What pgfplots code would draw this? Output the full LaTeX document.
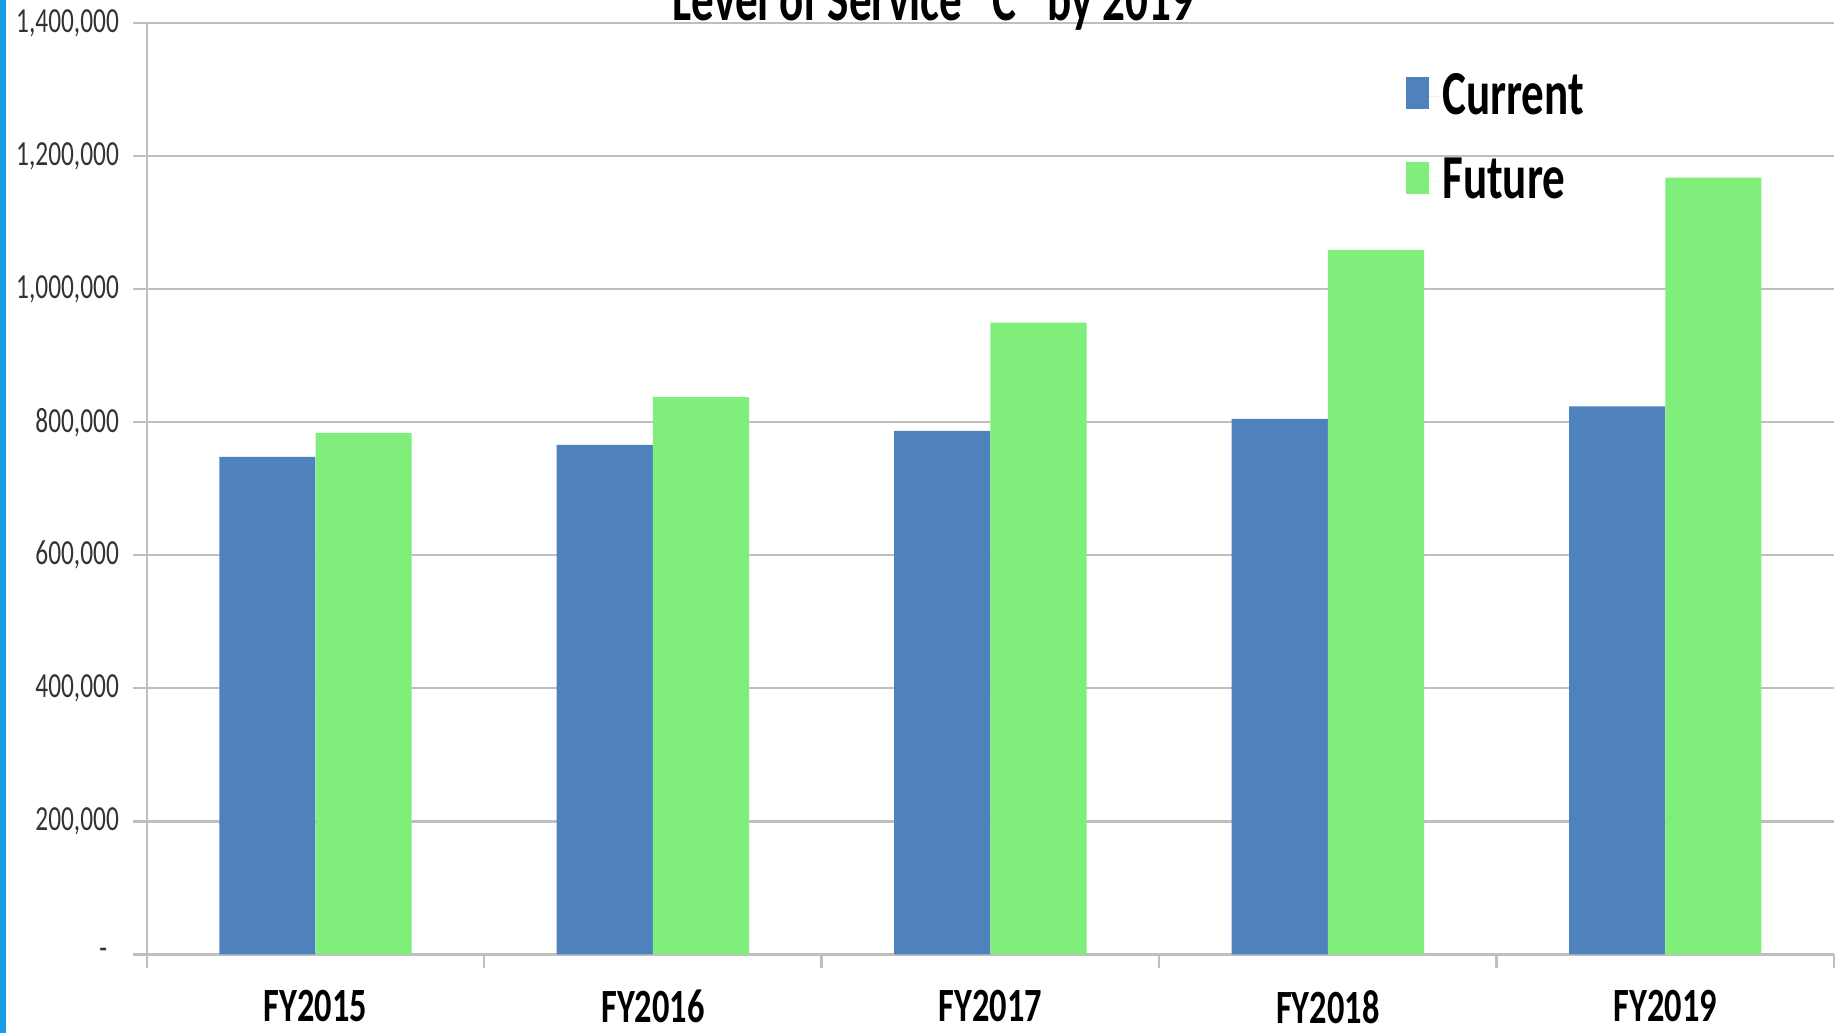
\documentclass[border=0pt]{standalone}
\usepackage{fontspec}
\setmainfont{Carlito}[FakeStretch=0.72]
\usepackage{pgfplots}
\pgfplotsset{compat=1.18}
\definecolor{curblue}{HTML}{4F81BD}
\definecolor{futgreen}{HTML}{80EE7A}
\definecolor{gridgray}{HTML}{BFBFBF}
\definecolor{stripe}{HTML}{1A9BE6}
\begin{document}
\begin{tikzpicture}
\begin{axis}[
  at={(37.5pt,20.1pt)}, anchor=south west,
  scale only axis, width=431.1pt, height=237.9pt,
  ybar,
  xmin=-0.5, xmax=4.5, ymin=0, ymax=1400000,
  axis lines=left, axis line style={-, draw=gridgray, line width=0.6pt},
  tick align=outside, major tick length=3.6pt,
  tick style={draw=gridgray, line width=0.6pt},
  xtick={-0.5,0.5,1.5,2.5,3.5,4.5}, xticklabels={},
  extra x ticks={0,1,2,3,4},
  extra x tick labels={FY2015,FY2016,FY2017,FY2018,FY2019},
  extra x tick style={major tick length=0pt,
    xticklabel style={font=\bfseries\fontsize{12.2}{14}\selectfont, text=black, yshift=-5.6pt}},
  scaled y ticks=false,
  ytick={0,200000,400000,600000,800000,1000000,1200000,1400000},
  yticklabels={{\makebox[5pt][l]{-}},{200,000},{400,000},{600,000},{800,000},{1,000,000},{1,200,000},{1,400,000}},
  yticklabel style={font=\fontsize{9}{10}\selectfont, text=black!80},
  ymajorgrids, grid style={draw=gridgray, line width=0.6pt},
  legend style={at={(0.7387,0.960)}, anchor=north west, draw=none, fill=none,
    font=\bfseries\fontsize{16}{19}\selectfont, row sep=7.8pt, nodes={inner sep=1pt}},
  legend cell align=left,
]
\addplot[fill=curblue, draw=none, bar width=0.285, bar shift=-0.1426,
  legend image code/.code={\path[fill=curblue] (0pt,-3.3pt) rectangle (6pt,5.1pt); \path (6pt,0pt) -- (8.4pt,0pt);}]
  coordinates {(0,748000) (1,766000) (2,787000) (3,805000) (4,824000)};
\addplot[fill=futgreen, draw=none, bar width=0.285, bar shift=0.1426,
  legend image code/.code={\path[fill=futgreen] (0pt,-3.3pt) rectangle (6pt,5.1pt); \path (6pt,0pt) -- (8.4pt,0pt);}]
  coordinates {(0,784000) (1,838000) (2,950000) (3,1059000) (4,1168000)};
\legend{Current,Future}
\end{axis}
\node[anchor=base, font=\bfseries\fontsize{16}{19}\selectfont, inner sep=0pt] at (238.5pt,258.6pt) {Level of Service ``C'' by 2019};
\fill[stripe] (0pt,0pt) rectangle (1.5pt,263.95pt);
\pgfresetboundingbox
\useasboundingbox (0pt,0pt) rectangle (470.4pt,263.95pt);
\end{tikzpicture}
\end{document}
